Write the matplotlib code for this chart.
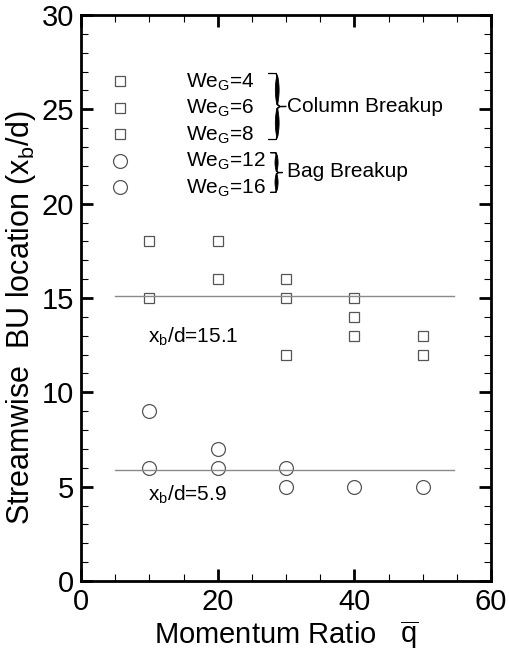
import matplotlib
matplotlib.use("Agg")
import matplotlib.pyplot as plt
from matplotlib.ticker import MultipleLocator
from matplotlib.patches import Polygon, PathPatch
from matplotlib.path import Path
import numpy as np

plt.rcParams["font.family"] = ["Liberation Sans", "DejaVu Sans"]
plt.rcParams["mathtext.default"] = "regular"

# Column breakup (We_G = 4, 6, 8)
q_column = [10, 10, 20, 20, 30, 30, 30, 40, 40, 40, 50, 50]
xb_column = [18, 15, 18, 16, 16, 15, 12, 15, 14, 13, 13, 12]

# Bag breakup (We_G = 12, 16)
q_bag = [10, 10, 20, 20, 30, 30, 40, 50]
xb_bag = [9, 6, 7, 6, 6, 5, 5, 5]

# Mean breakup locations
mean_column = 15.1
mean_bag = 5.9
mean_span = [5, 54.5]

we_column = [4, 6, 8]
we_bag = [12, 16]

EDGE = "#555555"
LINE = "#8a8a8a"

fig = plt.figure(figsize=(5.10, 6.54), dpi=100)
ax = fig.add_axes([0.159, 0.1116, 0.804, 0.8655])

sq_kw = dict(marker="s", ms=7, mfc="none", mec=EDGE, mew=0.9, ls="none")
ci_kw = dict(marker="o", ms=10, mfc="none", mec=EDGE, mew=0.9, ls="none")

ax.plot(q_column, xb_column, **sq_kw)
ax.plot(q_bag, xb_bag, **ci_kw)

ax.plot(mean_span, [mean_column, mean_column], color=LINE, lw=1.0)
ax.plot(mean_span, [mean_bag, mean_bag], color=LINE, lw=1.0)

ax.text(9.8, 12.95, f"x$_b$/d={mean_column}", fontsize=15, va="center", ha="left")
ax.text(9.8, 4.55, f"x$_b$/d={mean_bag}", fontsize=15, va="center", ha="left")

# Key drawn inside the axes
row_y = 26.5
row_step = 1.41
rows = [(w, sq_kw) for w in we_column] + [(w, ci_kw) for w in we_bag]
for w, kw in rows:
    ax.plot([5.7], [row_y], **kw)
    ax.text(15.4, row_y - 0.05, f"We$_G$={w}", fontsize=15, va="center", ha="left")
    row_y -= row_step


def brace(x0, x1, y0, y1, thick):
    """Calligraphic right-pointing curly brace inside [x0, x1] x [y0, y1]."""
    unit = [
        (0.0, 1.0),
        (0.45, 1.0), (0.5, 0.94), (0.5, 0.8),
        (0.5, 0.62),
        (0.5, 0.53), (0.65, 0.5), (1.0, 0.5),
        (0.65, 0.5), (0.5, 0.47), (0.5, 0.38),
        (0.5, 0.2),
        (0.5, 0.06), (0.45, 0.0), (0.0, 0.0),
    ]
    codes = [Path.MOVETO,
             Path.CURVE4, Path.CURVE4, Path.CURVE4,
             Path.LINETO,
             Path.CURVE4, Path.CURVE4, Path.CURVE4,
             Path.CURVE4, Path.CURVE4, Path.CURVE4,
             Path.LINETO,
             Path.CURVE4, Path.CURVE4, Path.CURVE4]
    centre = Path(unit, codes).interpolated(40)
    pts = centre.vertices
    u, v = pts[:, 0], pts[:, 1]
    s = np.where(v >= 0.5, (1 - v) / 0.5, v / 0.5)
    w = thick * np.sin(np.pi * np.clip(s, 0, 1)) ** 0.9
    xs = x0 + u * (x1 - x0)
    ys = y0 + v * (y1 - y0)
    outline = np.vstack([np.column_stack([xs - w / 2, ys]),
                         np.column_stack([xs + w / 2, ys])[::-1]])
    ax.add_patch(Polygon(outline, closed=True, fc="black", ec="black", lw=0.6))
    ax.add_patch(PathPatch(Path(np.column_stack([xs, ys])), fc="none",
                           ec="black", lw=0.9))


brace(27.4, 30.0, 23.4, 26.9, thick=0.55)
brace(27.7, 29.5, 20.6, 22.7, thick=0.45)
ax.text(30.2, 25.15, "Column Breakup", fontsize=15, va="center", ha="left")
ax.text(30.2, 21.7, "Bag Breakup", fontsize=15, va="center", ha="left")

ax.set_xlim(0, 60)
ax.set_ylim(0, 30)
ax.xaxis.set_major_locator(MultipleLocator(20))
ax.xaxis.set_minor_locator(MultipleLocator(5))
ax.yaxis.set_major_locator(MultipleLocator(5))
ax.yaxis.set_minor_locator(MultipleLocator(1))
ax.tick_params(which="both", direction="in", top=True, right=True)
ax.tick_params(which="major", length=8.5, width=2, labelsize=21, pad=5)
ax.tick_params(which="minor", length=5, width=0.8)
for s in ax.spines.values():
    s.set_linewidth(2)

ax.set_xlabel(r"Momentum Ratio   $\overline{q}$", fontsize=21, labelpad=2)
ax.set_ylabel(r"Streamwise  BU location (x$_b$/d)", fontsize=22)
ax.yaxis.set_label_coords(-0.105, 0.465)

fig.savefig("out.png", dpi=100)
